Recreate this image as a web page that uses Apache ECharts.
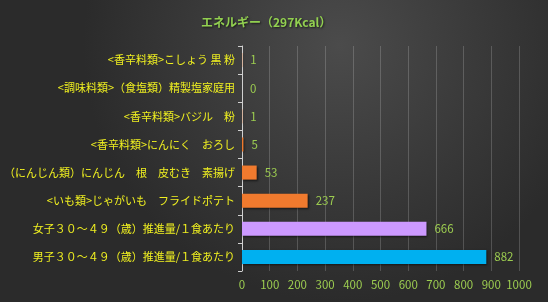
<!DOCTYPE html>
<html>
<head>
<meta charset="utf-8">
<script src="https://cdn.jsdelivr.net/npm/echarts@6/dist/echarts.min.js"></script>
<style>
  html, body { margin: 0; padding: 0; background: #333; }
  #chart { width: 548px; height: 302px; }
</style>
</head>
<body>
<div id="chart"></div>
<script>
// bottom to top, as the category axis draws them
var categories = [
    '男子３０～４９（歳）推進量/１食あたり',
    '女子３０～４９（歳）推進量/１食あたり',
    '<いも類>じゃがいも　フライドポテト',
    '（にんじん類）にんじん　根　皮むき　素揚げ',
    '<香辛料類>にんにく　おろし',
    '<香辛料類>バジル　粉',
    '<調味料類>（食塩類）精製塩家庭用',
    '<香辛料類>こしょう 黒 粉'
];
var values = [882, 666, 237, 53, 5, 1, 0, 1];
var barColors = ['#00b0f0', '#cc99ff', '#f07a2e', '#f07a2e', '#f07a2e', '#f07a2e', '#f07a2e', '#f07a2e'];
var xTicks = [0, 100, 200, 300, 400, 500, 600, 700, 800, 900, 1000];
var titleText = 'エネルギー（297Kcal）';

var chart = echarts.init(document.getElementById('chart'));
var option = {
    animation: false,
    backgroundColor: {
        type: 'radial',
        x: 0.62,
        y: 0.15,
        r: 0.85,
        colorStops: [
            { offset: 0, color: '#4b4b4b' },
            { offset: 1, color: '#2b2b2b' }
        ]
    },
    textStyle: {
        fontFamily: '"Noto Sans CJK JP", sans-serif'
    },
    title: {
        text: titleText,
        left: 196,
        top: 11,
        textStyle: {
            color: '#92d050',
            fontSize: 12,
            fontWeight: 'bold',
            textShadowColor: 'rgba(0,0,0,0.6)',
            textShadowBlur: 2,
            textShadowOffsetX: 1,
            textShadowOffsetY: 1
        }
    },
    grid: {
        left: 242,
        right: 29,
        top: 46,
        bottom: 31,
        containLabel: false,
        outerBoundsMode: 'none'
    },
    xAxis: {
        type: 'value',
        min: xTicks[0],
        max: xTicks[xTicks.length - 1],
        interval: 100,
        axisLine: { show: false },
        axisTick: { show: false },
        splitLine: {
            show: true,
            lineStyle: { color: 'rgba(255,255,255,0.18)', width: 1 }
        },
        axisLabel: {
            color: '#9ccc50',
            fontSize: 11.5,
            margin: 8,
            formatter: function (v) { return String(v); }
        }
    },
    yAxis: {
        type: 'category',
        data: categories,
        axisLine: {
            show: true,
            lineStyle: { color: '#d0d0d0', width: 1 }
        },
        axisTick: {
            show: true,
            length: 4,
            lineStyle: { color: '#d0d0d0' }
        },
        splitLine: { show: false },
        axisLabel: {
            color: '#f0f020',
            fontSize: 11,
            margin: 7
        }
    },
    series: [{
        type: 'bar',
        barWidth: '50%',
        data: values.map(function (v, i) {
            return { value: v, itemStyle: { color: barColors[i] } };
        }),
        itemStyle: {
            shadowColor: 'rgba(0,0,0,0.55)',
            shadowBlur: 2,
            shadowOffsetX: 1,
            shadowOffsetY: 1
        },
        label: {
            show: true,
            position: 'right',
            distance: 8,
            color: '#9ccc50',
            fontSize: 11.5
        }
    }]
};
chart.setOption(option);
</script>
</body>
</html>
